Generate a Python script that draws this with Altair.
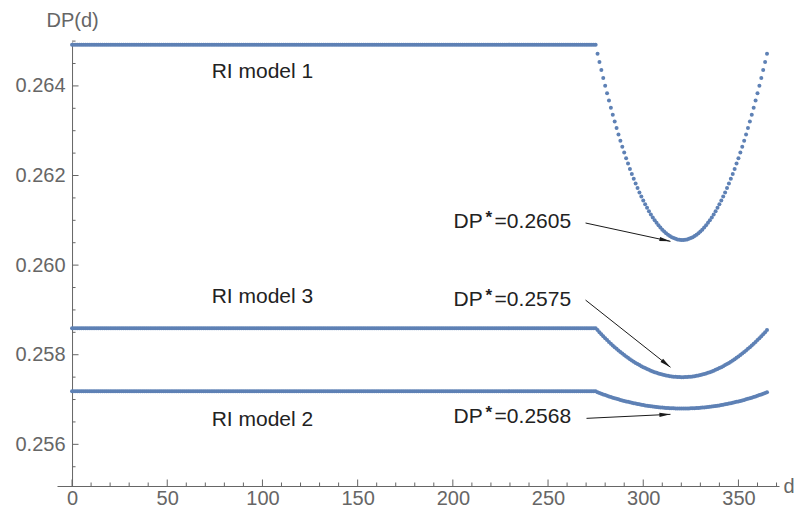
import math
import altair as alt
import pandas as pd

# ---------------- data ----------------
DAYS = list(range(366))
FLAT_DAYS = 276  # days 0..275 are flat

SERIES = ["RI model 1", "RI model 2", "RI model 3"]
FLAT_1 = 0.26492
FLAT_2 = 0.257184
FLAT_3 = 0.25859

CURVE_1 = [0.264719, 0.264534, 0.264353, 0.264177, 0.264005, 0.263837, 0.263673, 0.263513, 0.263358, 0.263207,
           0.263060, 0.262917, 0.262778, 0.262644, 0.262514, 0.262388, 0.262266, 0.262148, 0.262035, 0.261926,
           0.261821, 0.261720, 0.261623, 0.261531, 0.261443, 0.261359, 0.261279, 0.261203, 0.261132, 0.261065,
           0.261002, 0.260943, 0.260888, 0.260838, 0.260792, 0.260750, 0.260712, 0.260678, 0.260649, 0.260624,
           0.260603, 0.260586, 0.260573, 0.260565, 0.260560,
           0.260560, 0.260565, 0.260573, 0.260586, 0.260603, 0.260624, 0.260649, 0.260678, 0.260712, 0.260750,
           0.260792, 0.260838, 0.260888, 0.260943, 0.261002, 0.261065, 0.261132, 0.261203, 0.261279, 0.261359,
           0.261443, 0.261531, 0.261623, 0.261720, 0.261821, 0.261926, 0.262035, 0.262148, 0.262266, 0.262388,
           0.262514, 0.262644, 0.262778, 0.262917, 0.263060, 0.263207, 0.263358, 0.263513, 0.263673, 0.263837,
           0.264005, 0.264177, 0.264353, 0.264534, 0.264719]

CURVE_2 = [0.257160, 0.257144, 0.257129, 0.257113, 0.257099, 0.257084, 0.257070, 0.257056, 0.257042, 0.257029,
           0.257017, 0.257004, 0.256992, 0.256981, 0.256969, 0.256958, 0.256948, 0.256938, 0.256928, 0.256918,
           0.256909, 0.256901, 0.256892, 0.256884, 0.256876, 0.256869, 0.256862, 0.256856, 0.256850, 0.256844,
           0.256838, 0.256833, 0.256828, 0.256824, 0.256820, 0.256816, 0.256813, 0.256810, 0.256808, 0.256806,
           0.256804, 0.256802, 0.256801, 0.256800, 0.256800,
           0.256800, 0.256800, 0.256801, 0.256802, 0.256804, 0.256806, 0.256808, 0.256810, 0.256813, 0.256816,
           0.256820, 0.256824, 0.256828, 0.256833, 0.256838, 0.256844, 0.256850, 0.256856, 0.256862, 0.256869,
           0.256876, 0.256884, 0.256892, 0.256901, 0.256909, 0.256918, 0.256928, 0.256938, 0.256948, 0.256958,
           0.256969, 0.256981, 0.256992, 0.257004, 0.257017, 0.257029, 0.257042, 0.257056, 0.257070, 0.257084,
           0.257099, 0.257113, 0.257129, 0.257144, 0.257160]

CURVE_3 = [0.258550, 0.258503, 0.258457, 0.258413, 0.258369, 0.258327, 0.258286, 0.258245, 0.258206, 0.258168,
           0.258131, 0.258095, 0.258060, 0.258026, 0.257993, 0.257961, 0.257930, 0.257901, 0.257872, 0.257845,
           0.257818, 0.257793, 0.257768, 0.257745, 0.257723, 0.257702, 0.257681, 0.257662, 0.257644, 0.257627,
           0.257611, 0.257597, 0.257583, 0.257570, 0.257558, 0.257548, 0.257538, 0.257530, 0.257522, 0.257516,
           0.257511, 0.257506, 0.257503, 0.257501, 0.257500,
           0.257500, 0.257501, 0.257503, 0.257506, 0.257511, 0.257516, 0.257522, 0.257530, 0.257538, 0.257548,
           0.257558, 0.257570, 0.257583, 0.257597, 0.257611, 0.257627, 0.257644, 0.257662, 0.257681, 0.257702,
           0.257723, 0.257745, 0.257768, 0.257793, 0.257818, 0.257845, 0.257872, 0.257901, 0.257930, 0.257961,
           0.257993, 0.258026, 0.258060, 0.258095, 0.258131, 0.258168, 0.258206, 0.258245, 0.258286, 0.258327,
           0.258369, 0.258413, 0.258457, 0.258503, 0.258550]

# axis ticks
X_MAJOR = [0, 50, 100, 150, 200, 250, 300, 350]
X_MINOR = [10, 20, 30, 40, 60, 70, 80, 90, 110, 120, 130, 140, 160, 170, 180, 190,
           210, 220, 230, 240, 260, 270, 280, 290, 310, 320, 330, 340, 360, 370]
Y_MAJOR = [0.256, 0.258, 0.260, 0.262, 0.264]
Y_MINOR = [0.2555, 0.2565, 0.257, 0.2575, 0.2585, 0.259, 0.2595, 0.2605, 0.261, 0.2615,
           0.2625, 0.263, 0.2635, 0.2645, 0.265]

# annotations
MODEL_LABELS = ["RI model 1", "RI model 3", "RI model 2"]
MODEL_LABEL_X = [100, 100, 100]
MODEL_LABEL_Y = [0.26431, 0.25928, 0.25654]

DP_VALUES = ["=0.2605", "=0.2575", "=0.2568"]
DP_TEXT_X = [200.4, 200.4, 200.4]
DP_TEXT_Y = [0.26096, 0.25922, 0.25660]
ARROW_X1 = [269.7, 269.7, 270.2]
ARROW_Y1 = [0.26094, 0.25922, 0.25658]
ARROW_X2 = [314.3, 314.3, 314.3]
ARROW_Y2 = [0.26053, 0.25772, 0.25667]

# ---------------- chart ----------------
W, H = 722, 444
PAD = {"left": 49, "top": 34, "right": 16, "bottom": 27}
X_DOM = [-7.9, 371.3]
Y_DOM = [0.25507, 0.26498]
BLUE = "#5E81B5"
AXC = "#666666"
FONT = "Liberation Sans"

rows = []
for name, flat, curve in [(SERIES[0], FLAT_1, CURVE_1), (SERIES[1], FLAT_2, CURVE_2), (SERIES[2], FLAT_3, CURVE_3)]:
    vals = [flat] * FLAT_DAYS + curve
    for d, v in zip(DAYS, vals):
        rows.append({"series": name, "day": d, "dp": v})
pts = pd.DataFrame(rows)

xs = alt.Scale(domain=X_DOM, nice=False, zero=False)
ys = alt.Scale(domain=Y_DOM, nice=False, zero=False)

px_x = W / (X_DOM[1] - X_DOM[0])
px_y = H / (Y_DOM[1] - Y_DOM[0])
y_axis_offset = -(0 - X_DOM[0]) * px_x

xaxis = alt.Axis(values=X_MAJOR, grid=False, ticks=False, tickSize=0, domainColor=AXC, domainWidth=1,
                 labelColor=AXC, labelFontSize=20, labelPadding=2, labelFont=FONT,
                 title="d", titleAngle=0, titleX=726, titleY=0, titleAlign="left", titleBaseline="middle",
                 titleFontWeight="normal", titleFontSize=20, titleColor=AXC, titleFont=FONT)
yaxis = alt.Axis(values=Y_MAJOR, format=".3f", grid=False, ticks=False, tickSize=0, domainColor=AXC,
                 domainWidth=1, labelColor=AXC, labelFontSize=20, labelPadding=7, labelFont=FONT,
                 offset=y_axis_offset,
                 title="DP(d)", titleAngle=0, titleX=0, titleY=-22, titleAlign="center",
                 titleBaseline="middle", titleFontWeight="normal", titleFontSize=20, titleColor=AXC,
                 titleFont=FONT)


def X(field):
    return alt.X(field, type="quantitative", scale=xs, axis=xaxis)


def Y(field):
    return alt.Y(field, type="quantitative", scale=ys, axis=yaxis)


dots = alt.Chart(pts).mark_circle(size=16, opacity=1, color=BLUE).encode(
    x=X("day"), y=Y("dp"), detail="series:N",
)

# tick marks pointing inward
tick_rows = []
for v in Y_MAJOR:
    tick_rows.append({"x": 0, "x2": 6.5 / px_x, "y": v, "y2": v})
for v in Y_MINOR:
    tick_rows.append({"x": 0, "x2": 3.5 / px_x, "y": v, "y2": v})
for v in X_MAJOR:
    tick_rows.append({"x": v, "x2": v, "y": Y_DOM[0], "y2": Y_DOM[0] + 6.5 / px_y})
for v in X_MINOR:
    tick_rows.append({"x": v, "x2": v, "y": Y_DOM[0], "y2": Y_DOM[0] + 3.5 / px_y})
ticks = alt.Chart(pd.DataFrame(tick_rows)).mark_rule(color=AXC, strokeWidth=1).encode(
    x=X("x"), x2="x2:Q", y=Y("y"), y2="y2:Q",
)

arr = pd.DataFrame({"x1": ARROW_X1, "y1": ARROW_Y1, "x2": ARROW_X2, "y2": ARROW_Y2})
arr["angle"] = [
    (math.degrees(math.atan2((b - a) * px_x, (d - c) * px_y)) + 360) % 360
    for a, b, c, d in zip(arr.x1, arr.x2, arr.y1, arr.y2)
]
arrow_lines = alt.Chart(arr).mark_rule(color="#1a1a1a", strokeWidth=1).encode(
    x=X("x1"), x2="x2:Q", y=Y("y1"), y2="y2:Q",
)
arrow_heads = alt.Chart(arr).mark_point(
    shape="M0,0L0.32,1.7L-0.32,1.7Z", filled=True, color="#1a1a1a", opacity=1, size=170
).encode(
    x=X("x2"), y=Y("y2"), angle=alt.Angle("angle:Q", scale=None),
)

lab = pd.DataFrame({"x": MODEL_LABEL_X, "y": MODEL_LABEL_Y, "t": MODEL_LABELS})
model_text = alt.Chart(lab).mark_text(font=FONT, fontSize=21, color="#222222", align="center",
                                      baseline="middle").encode(
    x=X("x"), y=Y("y"), text="t:N")

dp = pd.DataFrame({"x": DP_TEXT_X, "y": DP_TEXT_Y, "v": DP_VALUES, "dp": ["DP"] * 3, "s": ["*"] * 3})
dp_a = alt.Chart(dp).mark_text(font=FONT, fontSize=21, color="#222222", align="left",
                               baseline="middle").encode(x=X("x"), y=Y("y"), text="dp:N")
dp_s = alt.Chart(dp).mark_text(font=FONT, fontSize=17, color="#222222", align="left",
                               baseline="middle", dx=32, dy=-4, fontWeight="bold").encode(
    x=X("x"), y=Y("y"), text="s:N")
dp_v = alt.Chart(dp).mark_text(font=FONT, fontSize=21, color="#222222", align="left",
                               baseline="middle", dx=41).encode(x=X("x"), y=Y("y"), text="v:N")

chart = alt.layer(dots, ticks, arrow_lines, arrow_heads, model_text, dp_a, dp_s, dp_v).properties(
    width=W, height=H,
    autosize=alt.AutoSizeParams(type="none"),
    padding=PAD,
).configure(font=FONT, background="white").configure_view(stroke=None)

chart.save("out.html", embed_options={"renderer": "svg", "actions": False})
